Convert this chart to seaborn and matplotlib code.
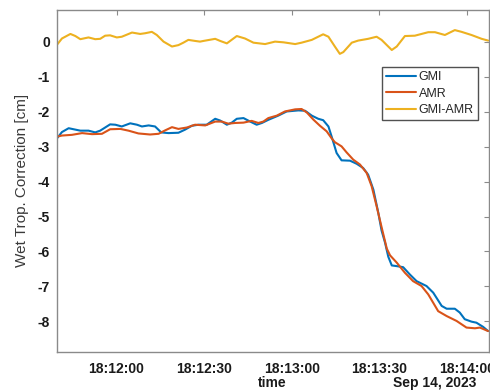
import datetime as dt

import matplotlib
matplotlib.use("Agg")
import matplotlib.dates as mdates
import matplotlib.pyplot as plt
import pandas as pd
import seaborn as sns

# Time offsets are seconds relative to 18:12:00 UTC on 2023-09-14
t_gmi = [-20.3, -18.7, -16.4, -14.7, -12.4, -9.6, -7.3, -5.6, -3.9, -2.2, -0.4, 1.8,
         4.7, 7.0, 8.7, 11.0, 13.2, 15.3, 17.8, 21.2, 23.5, 25.8, 28.1, 30.9, 33.8,
         35.5, 37.8, 39.5, 41.2, 43.5, 45.8, 48.0, 49.8, 52.0, 55.4, 58.3, 62.3,
         64.6, 66.9, 69.1, 70.8, 72.6, 73.7, 75.4, 77.1, 80.0, 82.3, 84.5, 86.2,
         88.0, 89.7, 90.8, 92.0, 93.1, 94.3, 96.0, 98.2, 100.5, 102.8, 106.2, 108.5,
         111.4, 113.1, 115.9, 117.6, 119.3, 121.6, 123.3, 125.6, 127.3]
gmi = [-2.75, -2.58, -2.47, -2.50, -2.54, -2.54, -2.59, -2.54, -2.45, -2.36, -2.37,
       -2.42, -2.33, -2.37, -2.42, -2.39, -2.42, -2.59, -2.61, -2.60, -2.51, -2.40,
       -2.37, -2.37, -2.20, -2.25, -2.37, -2.31, -2.20, -2.18, -2.28, -2.37, -2.32,
       -2.23, -2.11, -1.99, -1.96, -1.97, -2.11, -2.20, -2.24, -2.42, -2.71, -3.18,
       -3.39, -3.40, -3.49, -3.61, -3.80, -4.23, -4.90, -5.40, -5.75, -6.15, -6.40,
       -6.42, -6.45, -6.66, -6.85, -6.99, -7.18, -7.56, -7.64, -7.64, -7.75, -7.94,
       -8.01, -8.04, -8.16, -8.28]

t_amr = [-20.3, -18.7, -15.3, -11.8, -8.4, -5.0, -2.2, 1.3, 4.1, 7.5, 11.5, 14.4,
         16.7, 19.0, 21.2, 24.1, 26.9, 30.4, 33.8, 36.1, 38.3, 40.6, 43.5, 46.3,
         48.6, 50.3, 52.0, 54.9, 57.7, 61.2, 63.4, 65.2, 67.4, 69.7, 72.0, 73.7,
         74.8, 77.1, 78.8, 81.1, 83.4, 85.7, 87.4, 89.1, 90.8, 92.6, 93.7, 96.0,
         98.8, 101.6, 104.5, 106.8, 110.2, 113.1, 116.5, 119.9, 122.8, 124.5, 127.3]
amr = [-2.71, -2.68, -2.66, -2.61, -2.64, -2.63, -2.50, -2.49, -2.54, -2.62, -2.65,
       -2.63, -2.53, -2.44, -2.49, -2.45, -2.37, -2.39, -2.28, -2.28, -2.34, -2.32,
       -2.31, -2.26, -2.32, -2.28, -2.18, -2.11, -1.99, -1.93, -1.92, -2.02, -2.22,
       -2.40, -2.56, -2.76, -2.87, -2.99, -3.16, -3.37, -3.51, -3.75, -4.13, -4.70,
       -5.30, -5.92, -6.11, -6.32, -6.61, -6.85, -6.99, -7.23, -7.71, -7.85, -7.99,
       -8.18, -8.20, -8.18, -8.28]

t_diff = [-20.3, -18.7, -15.8, -14.1, -12.4, -9.6, -7.3, -5.6, -3.9, -2.2, 0.1, 1.8,
          5.3, 8.1, 9.8, 12.1, 13.8, 16.1, 19.0, 21.2, 22.9, 24.6, 26.9, 28.6, 29.8,
          33.8, 35.5, 37.8, 41.2, 44.0, 46.9, 50.9, 54.3, 57.2, 61.2, 63.4, 66.9,
          70.8, 72.6, 74.8, 76.5, 77.7, 80.6, 82.8, 86.2, 89.1, 90.8, 94.3, 96.0,
          98.8, 102.2, 106.8, 109.1, 112.5, 115.9, 118.2, 121.6, 125.1, 127.3]
gmi_amr = [-0.07, 0.10, 0.23, 0.17, 0.08, 0.13, 0.08, 0.09, 0.18, 0.19, 0.13, 0.15,
           0.27, 0.23, 0.25, 0.29, 0.20, 0.01, -0.13, -0.09, -0.02, 0.06, 0.03, 0.01,
           0.03, 0.09, 0.03, -0.04, 0.17, 0.10, -0.02, -0.06, 0.01, -0.01, -0.06,
           -0.02, 0.06, 0.22, 0.15, -0.13, -0.34, -0.29, -0.02, 0.04, 0.09, 0.15,
           0.06, -0.23, -0.13, 0.17, 0.18, 0.28, 0.28, 0.20, 0.34, 0.29, 0.20, 0.09,
           0.04]

series_names = ["GMI", "AMR", "GMI-AMR"]
series_colors = ["#0072BD", "#D95319", "#EDB120"]
x_tick_seconds = [0, 30, 60, 90, 120]
y_ticks = [0, -1, -2, -3, -4, -5, -6, -7, -8]

base = dt.datetime(2023, 9, 14, 18, 12, 0)


def frame(offsets, values, name):
    return pd.DataFrame({
        "time": [base + dt.timedelta(seconds=s) for s in offsets],
        "value": values,
        "series": name,
    })


df = pd.concat([
    frame(t_gmi, gmi, series_names[0]),
    frame(t_amr, amr, series_names[1]),
    frame(t_diff, gmi_amr, series_names[2]),
], ignore_index=True)

sns.set_style("white")
plt.rcParams["font.family"] = ["Liberation Sans", "DejaVu Sans"]

fig = plt.figure(figsize=(4.9, 3.91), dpi=100)
ax = fig.add_axes([0.1163, 0.0997, 0.8816, 0.876])

sns.lineplot(data=df, x="time", y="value", hue="series",
             hue_order=series_names, palette=series_colors,
             estimator=None, sort=True, linewidth=1.5, ax=ax)

ax.set_xlim(base - dt.timedelta(seconds=20.4), base + dt.timedelta(seconds=127.6))
ax.set_ylim(-8.88, 0.93)
ax.set_xticks([base + dt.timedelta(seconds=s) for s in x_tick_seconds])
ax.xaxis.set_major_formatter(mdates.DateFormatter("%H:%M:%S"))
ax.set_yticks(y_ticks)
ax.set_yticklabels([str(v) for v in y_ticks])

spine_color = "#8a8a8a"
for side in ["left", "right", "top", "bottom"]:
    ax.spines[side].set_visible(True)
    ax.spines[side].set_color(spine_color)
    ax.spines[side].set_linewidth(1.0)

ax.tick_params(axis="both", direction="in", length=3.5, width=0.8,
               color=spine_color, top=True, right=True,
               labelsize=10, labelcolor="#1a1a1a")
ax.tick_params(axis="x", pad=7)
ax.tick_params(axis="y", pad=5)
for lab in ax.get_xticklabels() + ax.get_yticklabels():
    lab.set_fontweight("bold")

ax.set_xlabel("")
ax.set_ylabel("Wet Trop. Correction [cm]", fontsize=11, color="#3a3a3a", labelpad=6)
ax.grid(False)

fig.text(0.555, 0.021, "time", ha="center", va="center",
         fontsize=10, fontweight="bold", color="#1a1a1a")
fig.text(0.888, 0.021, "Sep 14, 2023", ha="center", va="center",
         fontsize=10, fontweight="bold", color="#1a1a1a")

handles, labels = ax.get_legend_handles_labels()
leg = ax.legend(handles, labels, loc="upper left",
                bbox_to_anchor=(0.752, 0.831), fontsize=9,
                frameon=True, fancybox=False, edgecolor="#262626",
                handlelength=2.4, handletextpad=0.25, borderpad=0.3,
                labelspacing=0.35, borderaxespad=0.0)
leg.get_frame().set_linewidth(1.0)
for line in leg.get_lines():
    line.set_linewidth(1.5)

fig.savefig("out.png", dpi=100, facecolor="white")
